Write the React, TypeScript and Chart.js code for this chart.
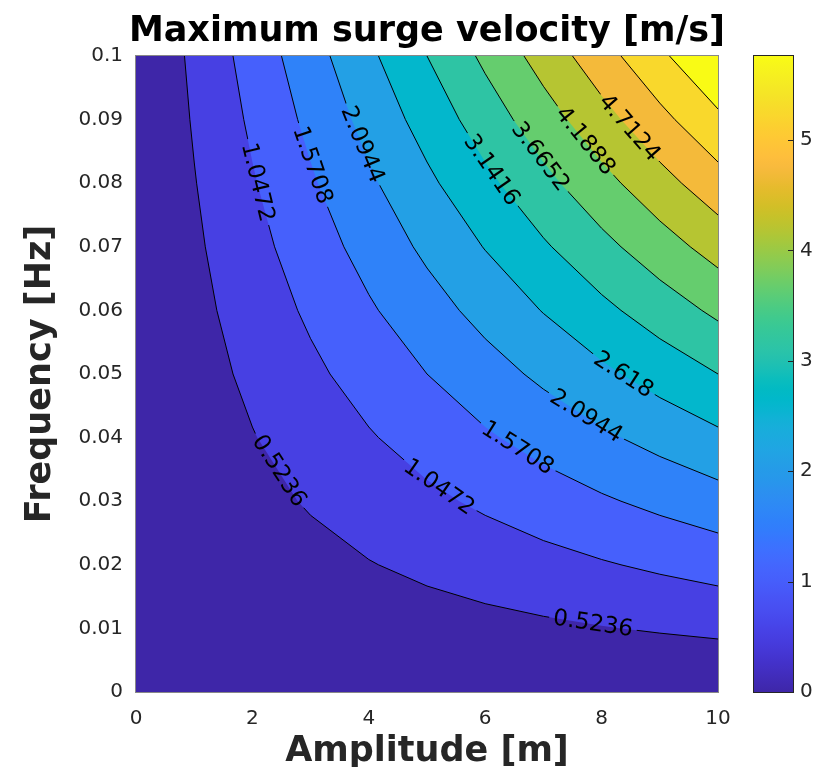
import React, { useEffect, useRef } from "react";
import { Chart, registerables } from "chart.js";

Chart.register(...registerables);

// Sampling grid of the surge-velocity field
const amplitudes = [0, 1, 2, 3, 4, 5, 6, 7, 8, 9, 10];
const frequencies = [0, 0.01, 0.02, 0.03, 0.04, 0.05, 0.06, 0.07, 0.08, 0.09, 0.1];

// velocity[i][j]: maximum surge velocity [m/s] at frequencies[i], amplitudes[j]
const velocity = [
  [0, 0, 0, 0, 0, 0, 0, 0, 0, 0, 0],
  [0, 0.0628, 0.1257, 0.1885, 0.2513, 0.3142, 0.377, 0.4398, 0.5027, 0.5655, 0.6283],
  [0, 0.1257, 0.2513, 0.377, 0.5027, 0.6283, 0.754, 0.8796, 1.0053, 1.131, 1.2566],
  [0, 0.1885, 0.377, 0.5655, 0.754, 0.9425, 1.131, 1.3195, 1.508, 1.6965, 1.885],
  [0, 0.2513, 0.5027, 0.754, 1.0053, 1.2566, 1.508, 1.7593, 2.0106, 2.2619, 2.5133],
  [0, 0.3142, 0.6283, 0.9425, 1.2566, 1.5708, 1.885, 2.1991, 2.5133, 2.8274, 3.1416],
  [0, 0.377, 0.754, 1.131, 1.508, 1.885, 2.2619, 2.6389, 3.0159, 3.3929, 3.7699],
  [0, 0.4398, 0.8796, 1.3195, 1.7593, 2.1991, 2.6389, 3.0788, 3.5186, 3.9584, 4.3982],
  [0, 0.5027, 1.0053, 1.508, 2.0106, 2.5133, 3.0159, 3.5186, 4.0212, 4.5239, 5.0265],
  [0, 0.5655, 1.131, 1.6965, 2.2619, 2.8274, 3.3929, 3.9584, 4.5239, 5.0894, 5.6549],
  [0, 0.6283, 1.2566, 1.885, 2.5133, 3.1416, 3.7699, 4.3982, 5.0265, 5.6549, 6.2832],
];

// Contour levels (multiples of pi/6)
const contourLevels = [0.5236, 1.0472, 1.5708, 2.0944, 2.618, 3.1416, 3.6652, 4.1888, 4.7124, 5.236, 5.7596];

// Inline contour labels: level and the amplitude where each label sits
const labelLevels = [0.5236, 0.5236, 1.0472, 1.0472, 1.5708, 1.5708, 2.0944, 2.0944, 2.618, 3.1416, 3.6652, 4.1888, 4.7124];
const labelAmplitudes = [2.45, 7.85, 2.08, 5.2, 3.02, 6.55, 3.88, 7.73, 8.37, 6.1, 6.94, 7.71, 8.47];

// Axis ticks
const xTicks = [0, 2, 4, 6, 8, 10];
const yTicks = [0, 0.01, 0.02, 0.03, 0.04, 0.05, 0.06, 0.07, 0.08, 0.09, 0.1];
const colorbarTicks = [0, 1, 2, 3, 4, 5];

// parula colormap (64 entries)
const PARULA: number[][] = [
  [0.2422, 0.1504, 0.6603], [0.2504, 0.165, 0.7076], [0.2578, 0.1818, 0.7511], [0.2647, 0.1978, 0.7952],
  [0.2706, 0.2147, 0.8364], [0.2751, 0.2342, 0.871], [0.2783, 0.2559, 0.8991], [0.2803, 0.2782, 0.9221],
  [0.2813, 0.3006, 0.9414], [0.281, 0.3228, 0.9579], [0.2795, 0.3447, 0.9717], [0.276, 0.3667, 0.9829],
  [0.2699, 0.3892, 0.9906], [0.2602, 0.4123, 0.9952], [0.244, 0.4358, 0.9988], [0.2206, 0.4603, 0.9973],
  [0.1963, 0.4847, 0.9892], [0.1834, 0.5074, 0.9798], [0.1786, 0.5289, 0.9682], [0.1764, 0.5499, 0.952],
  [0.1687, 0.5703, 0.9359], [0.154, 0.5902, 0.9218], [0.146, 0.6091, 0.9079], [0.138, 0.6276, 0.8973],
  [0.1248, 0.6459, 0.8883], [0.1113, 0.6635, 0.8763], [0.0952, 0.6798, 0.8598], [0.0689, 0.6948, 0.8394],
  [0.0297, 0.7082, 0.8163], [0.0036, 0.7203, 0.7917], [0.0067, 0.7312, 0.766], [0.0433, 0.7411, 0.7394],
  [0.0964, 0.75, 0.712], [0.1408, 0.7584, 0.6842], [0.1717, 0.767, 0.6554], [0.1938, 0.7758, 0.6251],
  [0.2161, 0.7843, 0.5923], [0.247, 0.7918, 0.5567], [0.2906, 0.7973, 0.5188], [0.3406, 0.8008, 0.4789],
  [0.3909, 0.8029, 0.4354], [0.4456, 0.8024, 0.3909], [0.5044, 0.7993, 0.348], [0.5616, 0.7942, 0.3045],
  [0.6174, 0.7876, 0.2612], [0.672, 0.7793, 0.2227], [0.7242, 0.7698, 0.191], [0.7738, 0.7598, 0.1646],
  [0.8203, 0.7498, 0.1535], [0.8634, 0.7406, 0.1596], [0.9035, 0.733, 0.1774], [0.9393, 0.7288, 0.21],
  [0.9728, 0.7298, 0.2394], [0.9956, 0.7434, 0.2371], [0.997, 0.7659, 0.2199], [0.9952, 0.7893, 0.2028],
  [0.9892, 0.8136, 0.1885], [0.9786, 0.8386, 0.1766], [0.9676, 0.8639, 0.1643], [0.961, 0.889, 0.1537],
  [0.9597, 0.9135, 0.1423], [0.9628, 0.9373, 0.1265], [0.9691, 0.9606, 0.1064], [0.9769, 0.9839, 0.0805],
];

function parula(t: number): string {
  const c = Math.min(1, Math.max(0, t)) * (PARULA.length - 1);
  const i = Math.floor(c);
  const f = c - i;
  const a = PARULA[i];
  const b = PARULA[Math.min(i + 1, PARULA.length - 1)];
  const rgb = a.map((v, k) => Math.round(255 * (v + (b[k] - v) * f)));
  return `rgb(${rgb[0]},${rgb[1]},${rgb[2]})`;
}

type Pt = { x: number; y: number };

// Contour of one level by linear interpolation along the grid edges.
// The field grows with both amplitude and frequency, so ordering the edge
// crossings by amplitude gives the polyline from the top edge to the right edge.
function contourPoints(level: number): Pt[] {
  const pts: Pt[] = [];
  const nf = frequencies.length;
  const na = amplitudes.length;
  for (let j = 0; j < na; j++) {
    for (let i = 0; i < nf - 1; i++) {
      const a = velocity[i][j];
      const b = velocity[i + 1][j];
      if (a < level && b >= level) {
        const t = (level - a) / (b - a);
        pts.push({ x: amplitudes[j], y: frequencies[i] + t * (frequencies[i + 1] - frequencies[i]) });
      }
    }
  }
  for (let i = 0; i < nf; i++) {
    for (let j = 0; j < na - 1; j++) {
      const a = velocity[i][j];
      const b = velocity[i][j + 1];
      if (a < level && b >= level) {
        const t = (level - a) / (b - a);
        pts.push({ x: amplitudes[j] + t * (amplitudes[j + 1] - amplitudes[j]), y: frequencies[i] });
      }
    }
  }
  pts.sort((p, q) => p.x - q.x || q.y - p.y);
  const out: Pt[] = [];
  for (const p of pts) {
    const last = out[out.length - 1];
    if (!last || Math.abs(last.x - p.x) > 1e-9 || Math.abs(last.y - p.y) > 1e-12) out.push(p);
  }
  return out;
}

const TEXT_COLOR = "#262626";
const FONT = "DejaVu Sans";
const LABEL_SIZE = 23;
const LABEL_FONT = `${LABEL_SIZE}px "${FONT}"`;

type LabelGeo = { dataset: number; text: string; x: number; y: number; angle: number; w: number };

function pointAt(pts: Pt[], cum: number[], s: number): Pt {
  const total = cum[cum.length - 1];
  const ss = Math.max(0, Math.min(total, s));
  for (let i = 1; i < pts.length; i++) {
    if (cum[i] >= ss) {
      const seg = cum[i] - cum[i - 1] || 1;
      const t = (ss - cum[i - 1]) / seg;
      return { x: pts[i - 1].x + t * (pts[i].x - pts[i - 1].x), y: pts[i - 1].y + t * (pts[i].y - pts[i - 1].y) };
    }
  }
  return pts[pts.length - 1];
}

const contourPlugin = {
  id: "contourDecor",
  beforeDatasetsDraw(chart: any) {
    const ctx: CanvasRenderingContext2D = chart.ctx;
    ctx.save();
    ctx.font = LABEL_FONT;
    const xs = chart.scales.x;
    const geo: LabelGeo[] = [];
    labelLevels.forEach((lvl, n) => {
      const di = chart.data.datasets.findIndex((d: any) => d.contourLevel === lvl);
      if (di < 0) return;
      const pts: Pt[] = chart.getDatasetMeta(di).data.map((p: any) => ({ x: p.x, y: p.y }));
      if (pts.length < 2) return;
      const cum = [0];
      for (let i = 1; i < pts.length; i++) {
        cum.push(cum[i - 1] + Math.hypot(pts[i].x - pts[i - 1].x, pts[i].y - pts[i - 1].y));
      }
      const px = xs.getPixelForValue(labelAmplitudes[n]);
      let s0 = 0;
      for (let i = 1; i < pts.length; i++) {
        if (pts[i - 1].x <= px && pts[i].x >= px) {
          const dx = pts[i].x - pts[i - 1].x;
          const t = dx > 0 ? (px - pts[i - 1].x) / dx : 0;
          s0 = cum[i - 1] + t * (cum[i] - cum[i - 1]);
          break;
        }
      }
      const text = String(lvl);
      const w = ctx.measureText(text).width;
      const c = pointAt(pts, cum, s0);
      const p1 = pointAt(pts, cum, s0 - w / 2);
      const p2 = pointAt(pts, cum, s0 + w / 2);
      const angle = Math.atan2(p2.y - p1.y, p2.x - p1.x);
      geo.push({ dataset: di, text, x: c.x, y: c.y, angle, w });
    });
    ctx.restore();
    chart.$contourLabels = geo;
  },
  beforeDatasetDraw(chart: any, args: any) {
    const ds = chart.data.datasets[args.index];
    if (ds.contourLevel === undefined) return;
    const ctx: CanvasRenderingContext2D = chart.ctx;
    ctx.save();
    ctx.beginPath();
    ctx.rect(0, 0, chart.width, chart.height);
    const geo: LabelGeo[] = (chart.$contourLabels || []).filter((g: LabelGeo) => g.dataset === args.index);
    for (const g of geo) {
      const hw = g.w / 2 + 4;
      const hh = LABEL_SIZE / 2 + 1;
      const cs = Math.cos(g.angle);
      const sn = Math.sin(g.angle);
      const corner = (u: number, v: number) => [g.x + u * cs - v * sn, g.y + u * sn + v * cs];
      const c1 = corner(-hw, -hh), c2 = corner(hw, -hh), c3 = corner(hw, hh), c4 = corner(-hw, hh);
      ctx.moveTo(c1[0], c1[1]);
      ctx.lineTo(c2[0], c2[1]);
      ctx.lineTo(c3[0], c3[1]);
      ctx.lineTo(c4[0], c4[1]);
      ctx.closePath();
    }
    ctx.clip("evenodd");
  },
  afterDatasetDraw(chart: any, args: any) {
    const ds = chart.data.datasets[args.index];
    if (ds.contourLevel === undefined) return;
    chart.ctx.restore();
  },
  afterDatasetsDraw(chart: any) {
    const ctx: CanvasRenderingContext2D = chart.ctx;
    const area = chart.chartArea;
    // contour labels
    ctx.save();
    ctx.font = LABEL_FONT;
    ctx.fillStyle = "#000";
    ctx.textAlign = "center";
    ctx.textBaseline = "middle";
    for (const g of (chart.$contourLabels || []) as LabelGeo[]) {
      ctx.save();
      ctx.translate(g.x, g.y);
      ctx.rotate(g.angle);
      ctx.fillText(g.text, 0, 0);
      ctx.restore();
    }
    ctx.restore();
    // axes box
    ctx.save();
    ctx.strokeStyle = "rgba(38,38,38,0.55)";
    ctx.lineWidth = 1;
    ctx.strokeRect(Math.round(area.left) - 0.5, Math.round(area.top) - 0.5, Math.round(area.right - area.left) + 1, Math.round(area.bottom - area.top) + 1);
    ctx.restore();
    // colour bar
    const cb = chart.scales.cb;
    const x0 = area.right + 35;
    const x1 = area.right + 75;
    const yTop = cb.getPixelForValue(cb.max);
    const yBot = cb.getPixelForValue(cb.min);
    ctx.save();
    const grad = ctx.createLinearGradient(0, yBot, 0, yTop);
    PARULA.forEach((c, i) => {
      grad.addColorStop(i / (PARULA.length - 1), `rgb(${Math.round(c[0] * 255)},${Math.round(c[1] * 255)},${Math.round(c[2] * 255)})`);
    });
    ctx.fillStyle = grad;
    ctx.fillRect(x0, yTop, x1 - x0, yBot - yTop);
    ctx.strokeStyle = TEXT_COLOR;
    ctx.lineWidth = 1;
    ctx.beginPath();
    for (const v of colorbarTicks) {
      const y = Math.round(cb.getPixelForValue(v)) + 0.5;
      ctx.moveTo(x1, y);
      ctx.lineTo(x1 - 5, y);
    }
    ctx.stroke();
    ctx.strokeRect(Math.round(x0) + 0.5, Math.round(yTop) - 0.5, Math.round(x1 - x0), Math.round(yBot - yTop) + 1);
    ctx.restore();
  },
};

export default function App() {
  const ref = useRef<HTMLCanvasElement>(null);

  useEffect(() => {
    const canvas = ref.current;
    if (!canvas) return;
    const cbMax = contourLevels[contourLevels.length - 1];
    const fTop = frequencies[frequencies.length - 1];
    const aMin = amplitudes[0];
    const aMax = amplitudes[amplitudes.length - 1];
    const fillLevels = [0, ...contourLevels];

    const datasets: any[] = [];
    // filled bands: each region v >= level, painted from the lowest level up
    fillLevels.forEach((lvl, k) => {
      const data =
        k === 0
          ? [{ x: aMin, y: frequencies[0] }, { x: aMax, y: frequencies[0] }]
          : [{ x: aMin, y: fTop }, ...contourPoints(lvl)];
      datasets.push({
        data,
        fill: "end",
        backgroundColor: parula(lvl / cbMax),
        borderColor: "rgba(0,0,0,0)",
        borderWidth: 0,
        pointRadius: 0,
        tension: 0,
        order: 100 - k,
        xAxisID: "x",
        yAxisID: "y",
      });
    });
    // contour lines
    contourLevels.forEach((lvl) => {
      datasets.push({
        data: contourPoints(lvl),
        contourLevel: lvl,
        fill: false,
        borderColor: "#000",
        borderWidth: 1,
        pointRadius: 0,
        tension: 0,
        order: 0,
        xAxisID: "x",
        yAxisID: "y",
      });
    });

    const tickFont = { family: FONT, size: 20 };
    const axisTitleFont = { family: FONT, size: 35, weight: "bold" as const, lineHeight: 0.8 };

    const chart = new Chart(canvas, {
      type: "line",
      data: { datasets },
      plugins: [contourPlugin],
      options: {
        responsive: false,
        animation: false,
        events: [],
        // left padding shifts the full-width title so it centres over the plot
        layout: { padding: { left: 33, right: 0, top: 0, bottom: 0 } },
        plugins: {
          legend: { display: false },
          tooltip: { enabled: false },
          title: {
            display: true,
            text: "Maximum surge velocity [m/s]",
            fullSize: true,
            color: "#000",
            font: { family: FONT, size: 35, weight: "bold", lineHeight: 1 },
            padding: { top: 6, bottom: 7 },
          },
        },
        scales: {
          x: {
            type: "linear",
            min: aMin,
            max: aMax,
            afterBuildTicks: (s: any) => {
              s.ticks = xTicks.map((v) => ({ value: v }));
            },
            afterFit: (s: any) => {
              s.height = 75;
            },
            ticks: { font: tickFont, color: TEXT_COLOR, padding: 15, maxRotation: 0, autoSkip: false, callback: (v: any) => String(v) },
            grid: { display: false, drawTicks: false },
            border: { display: false },
            title: { display: true, text: "Amplitude [m]", color: TEXT_COLOR, font: axisTitleFont, padding: { top: 0, bottom: 1 } },
          },
          y: {
            type: "linear",
            min: frequencies[0],
            max: fTop,
            afterBuildTicks: (s: any) => {
              s.ticks = yTicks.map((v) => ({ value: v }));
            },
            afterFit: (s: any) => {
              s.width = 95;
            },
            ticks: { font: tickFont, color: TEXT_COLOR, padding: 13, autoSkip: false, callback: (v: any) => String(v) },
            grid: { display: false, drawTicks: false },
            border: { display: false },
            title: { display: true, text: "Frequency [Hz]", color: TEXT_COLOR, font: axisTitleFont, padding: { top: -14, bottom: 0 } },
          },
          cb: {
            type: "linear",
            position: "right",
            min: 0,
            max: cbMax,
            afterBuildTicks: (s: any) => {
              s.ticks = colorbarTicks.map((v) => ({ value: v }));
            },
            afterFit: (s: any) => {
              s.width = 95;
            },
            // the tick-mark length carries the labels past the colour bar; marks themselves are hidden
            ticks: { font: tickFont, color: TEXT_COLOR, padding: 2, autoSkip: false, callback: (v: any) => String(v) },
            grid: { display: false, drawTicks: true, tickLength: 80 },
            border: { display: false },
          },
        },
      } as any,
    });
    return () => chart.destroy();
  }, []);

  return (
    <div style={{ width: 805, height: 759 }}>
      <canvas ref={ref} width={805} height={759} style={{ display: "block" }} />
    </div>
  );
}
